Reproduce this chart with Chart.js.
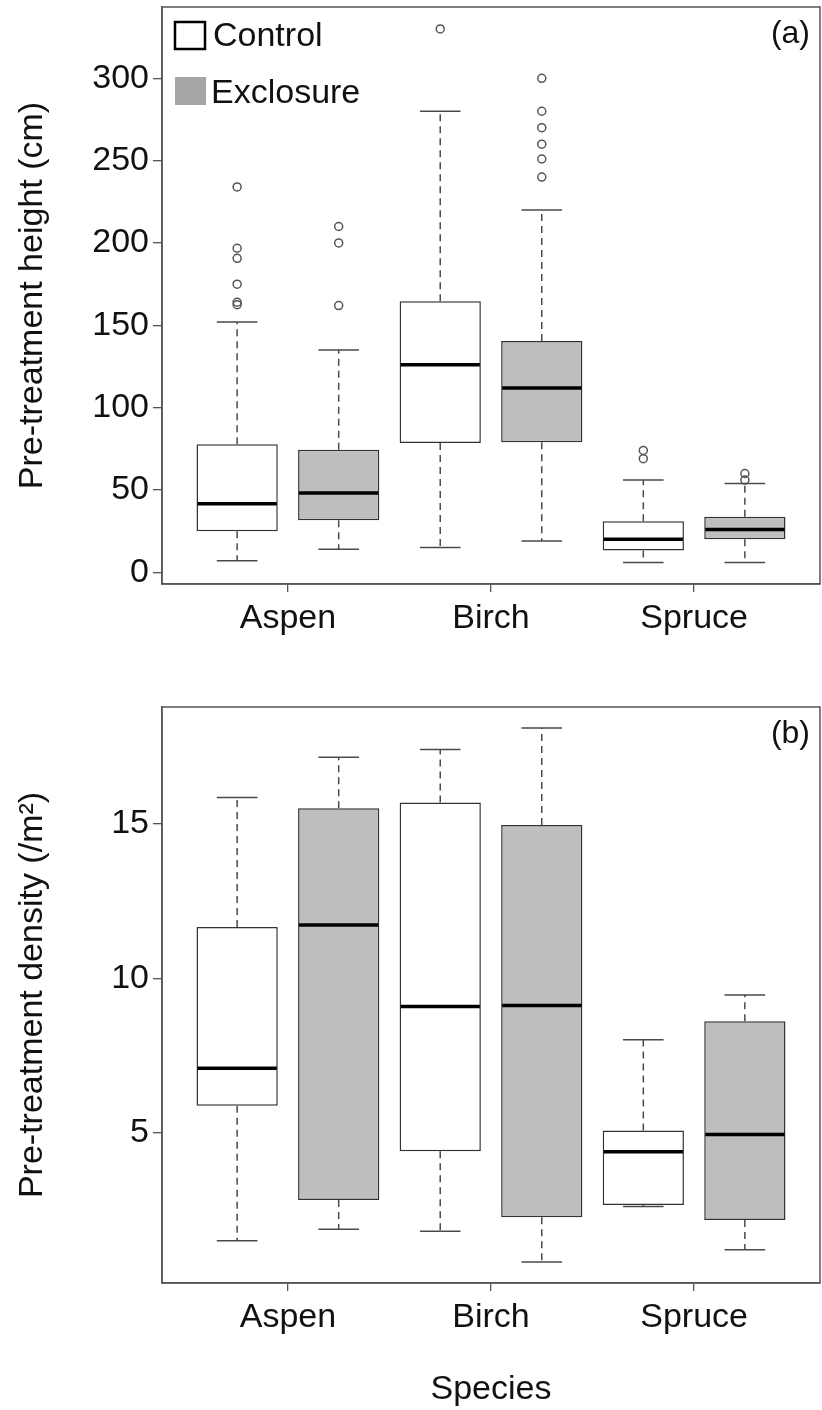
<!DOCTYPE html>
<html>
<head>
<meta charset="utf-8">
<script src="https://cdn.jsdelivr.net/npm/chart.js@4.4.1/dist/chart.umd.min.js"></script>
<style>
  html, body { margin: 0; padding: 0; background: #ffffff; }
  #wrap { position: relative; width: 822px; height: 1410px; }
  .panel { position: absolute; left: 0; width: 822px; }
  #pa { top: 0; height: 660px; }
  #pb { top: 660px; height: 750px; }
  canvas { display: block; }
</style>
</head>
<body>
<div id="wrap">
  <div class="panel" id="pa"><canvas id="chartA" width="822" height="660"></canvas></div>
  <div class="panel" id="pb"><canvas id="chartB" width="822" height="750"></canvas></div>
</div>
<script>
// ---- data -------------------------------------------------------------
const species = ['Aspen', 'Birch', 'Spruce'];
const treatments = ['Control', 'Exclosure'];
// one box per species x treatment, Control then Exclosure
const boxPositions = [1, 2, 3, 4, 5, 6];
const speciesTickPositions = [1.5, 3.5, 5.5];

// (a) pre-treatment height (cm)
const heightLow    = [7,    14,   15,    19,    6,    6];
const heightQ1     = [25,   31.6, 78.5,  79,    13.3, 20];
const heightMedian = [41.7, 48.2, 126,   112,   20,   26];
const heightQ3     = [77.7, 74.5, 164.6, 140.5, 31,   33.8];
const heightHigh   = [152,  135,  280,   220,   56,   54];
const heightOutliers = [
  [234, 196.8, 190.7, 175, 164, 162.5],
  [210, 200, 162],
  [330],
  [300, 280, 270, 260, 251, 240],
  [74, 69],
  [60, 56]
];
const heightTicks = [0, 50, 100, 150, 200, 250, 300];

// (b) pre-treatment density (/m2)
const densityLow    = [1.50,  1.87,  1.81,  0.81,  2.61, 1.21];
const densityQ1     = [5.87,  2.82,  4.40,  2.26,  2.66, 2.17];
const densityMedian = [7.09,  11.73, 9.09,  9.12,  4.38, 4.94];
const densityQ3     = [11.66, 15.51, 15.70, 14.97, 5.07, 8.61];
const densityHigh   = [15.86, 17.16, 17.41, 18.11, 8.01, 9.46];
const densityOutliers = [[], [], [], [], [], []];
const densityTicks = [5, 10, 15];

// ---- styling ----------------------------------------------------------
const FONT = '"Liberation Sans", Arial, Helvetica, sans-serif';
const TEXT = '#111111';
const AXIS = '#555555';
const BOX_EDGE = '#333333';
const BOX_FILL = ['#ffffff', '#bebebe'];
const LEGEND_FILL = ['#ffffff', '#a6a6a6'];

Chart.defaults.font.family = FONT;
Chart.defaults.color = TEXT;

// whiskers, caps and medians, drawn on the chart's own scales
const whiskerPlugin = {
  id: 'whiskers',
  afterDatasetsDraw(chart, args, opts) {
    const { ctx } = chart;
    const xs = chart.scales.x, ys = chart.scales.y;
    const bars = chart.getDatasetMeta(0).data;
    ctx.save();
    opts.positions.forEach((pos, i) => {
      const px = xs.getPixelForValue(pos);
      const w = bars[i].width;
      const yLow = ys.getPixelForValue(opts.low[i]);
      const yQ1 = ys.getPixelForValue(opts.q1[i]);
      const yQ3 = ys.getPixelForValue(opts.q3[i]);
      const yHigh = ys.getPixelForValue(opts.high[i]);
      const yMed = ys.getPixelForValue(opts.median[i]);
      // dashed whiskers
      ctx.strokeStyle = '#4a4a4a';
      ctx.lineWidth = 1.5;
      ctx.setLineDash([7, 5]);
      ctx.beginPath();
      ctx.moveTo(px, yQ3); ctx.lineTo(px, yHigh);
      ctx.moveTo(px, yQ1); ctx.lineTo(px, yLow);
      ctx.stroke();
      // caps
      ctx.setLineDash([]);
      ctx.beginPath();
      ctx.moveTo(px - w / 4, yHigh); ctx.lineTo(px + w / 4, yHigh);
      ctx.moveTo(px - w / 4, yLow); ctx.lineTo(px + w / 4, yLow);
      ctx.stroke();
      // median
      ctx.strokeStyle = '#000000';
      ctx.lineWidth = 3.5;
      ctx.beginPath();
      ctx.moveTo(px - w / 2 + 1, yMed); ctx.lineTo(px + w / 2 - 1, yMed);
      ctx.stroke();
    });
    ctx.restore();
  }
};

// full frame around the plotting region plus the panel letter
const framePlugin = {
  id: 'frame',
  afterDraw(chart, args, opts) {
    const { ctx, chartArea: a } = chart;
    ctx.save();
    ctx.strokeStyle = AXIS;
    ctx.lineWidth = 1.5;
    ctx.strokeRect(a.left, a.top, a.right - a.left, a.bottom - a.top);
    ctx.fillStyle = TEXT;
    ctx.font = '32px ' + FONT;
    ctx.textAlign = 'right';
    ctx.textBaseline = 'alphabetic';
    ctx.fillText(opts.label, a.right - 10, a.top + 36);
    ctx.restore();
  }
};

// treatment key in the top-left corner of panel (a)
const keyPlugin = {
  id: 'treatmentKey',
  afterDraw(chart, args, opts) {
    if (!opts.show) return;
    const { ctx, chartArea: a } = chart;
    ctx.save();
    const x0 = a.left + 13;
    // Control swatch
    ctx.strokeStyle = '#000000';
    ctx.lineWidth = 2.5;
    ctx.fillStyle = LEGEND_FILL[0];
    ctx.fillRect(x0, a.top + 15, 30, 27);
    ctx.strokeRect(x0, a.top + 15, 30, 27);
    // Exclosure swatch
    ctx.fillStyle = LEGEND_FILL[1];
    ctx.fillRect(x0, a.top + 70, 31, 28);
    ctx.fillStyle = TEXT;
    ctx.font = '34px ' + FONT;
    ctx.textBaseline = 'alphabetic';
    ctx.fillText(treatments[0], x0 + 38, a.top + 39);
    ctx.fillText(treatments[1], x0 + 36, a.top + 96);
    ctx.restore();
  }
};

function buildChart(canvasId, p) {
  const outlierPoints = [];
  p.outliers.forEach((list, i) => list.forEach(v => outlierPoints.push({ x: boxPositions[i], y: v })));

  return new Chart(document.getElementById(canvasId), {
    type: 'bar',
    data: {
      datasets: [
        {
          type: 'bar',
          data: boxPositions.map((pos, i) => ({ x: pos, y: [p.q1[i], p.q3[i]] })),
          backgroundColor: boxPositions.map((pos, i) => BOX_FILL[i % 2]),
          borderColor: BOX_EDGE,
          borderWidth: 1.5,
          borderSkipped: false,
          barPercentage: 0.8,
          categoryPercentage: 1.0,
          order: 2
        },
        {
          type: 'scatter',
          data: outlierPoints,
          pointStyle: 'circle',
          pointRadius: 4,
          borderColor: '#555555',
          backgroundColor: 'rgba(0,0,0,0)',
          borderWidth: 1.5,
          order: 1
        }
      ]
    },
    options: {
      responsive: false,
      animation: false,
      events: [],
      layout: { autoPadding: false, padding: { top: p.padTop, right: 2, left: 0, bottom: 0 } },
      plugins: {
        legend: { display: false },
        tooltip: { enabled: false },
        whiskers: {
          positions: boxPositions, low: p.low, q1: p.q1, median: p.median, q3: p.q3, high: p.high
        },
        frame: { label: p.label },
        treatmentKey: { show: p.showKey }
      },
      scales: {
        x: {
          type: 'linear',
          min: 0.26,
          max: 6.74,
          offset: false,
          afterBuildTicks: s => { s.ticks = speciesTickPositions.map(v => ({ value: v })); },
          afterFit: s => {
            s.height = p.xAxisHeight;
            s.paddingLeft = 0; s.paddingRight = 0;
          },
          grid: { offset: false, drawOnChartArea: false, drawTicks: true, tickLength: 8, color: AXIS, lineWidth: 1.3 },
          border: { display: true, color: AXIS, width: 1.5 },
          ticks: {
            autoSkip: false, maxRotation: 0, padding: 6,
            font: { size: 34 }, color: TEXT,
            callback: (v, i) => species[i]
          },
          title: {
            display: !!p.xTitle, text: p.xTitle || '',
            font: { size: 34 }, color: TEXT, padding: { top: 0, bottom: 0 }
          }
        },
        y: {
          type: 'linear',
          min: p.yMin,
          max: p.yMax,
          afterBuildTicks: s => { s.ticks = p.ticks.map(v => ({ value: v })); },
          afterFit: s => {
            s.width = 162;
            s.paddingTop = 0; s.paddingBottom = 0;
          },
          grid: { drawOnChartArea: false, drawTicks: true, tickLength: 9, color: AXIS, lineWidth: 1.3 },
          border: { display: true, color: AXIS, width: 1.5 },
          ticks: { padding: 4, font: { size: 34 }, color: TEXT },
          title: {
            display: true, text: p.yTitle,
            font: { size: 34 }, color: TEXT, padding: { top: 12, bottom: 0 }
          }
        }
      }
    },
    plugins: [whiskerPlugin, framePlugin, keyPlugin]
  });
}

buildChart('chartA', {
  low: heightLow, q1: heightQ1, median: heightMedian, q3: heightQ3, high: heightHigh,
  outliers: heightOutliers, ticks: heightTicks,
  yMin: -7.1, yMax: 343.3,
  yTitle: 'Pre-treatment height (cm)', xTitle: '',
  label: '(a)', showKey: true,
  padTop: 7, xAxisHeight: 76
});

buildChart('chartB', {
  low: densityLow, q1: densityQ1, median: densityMedian, q3: densityQ3, high: densityHigh,
  outliers: densityOutliers, ticks: densityTicks,
  yMin: 0.13, yMax: 18.79,
  yTitle: 'Pre-treatment density (/m²)', xTitle: 'Species',
  label: '(b)', showKey: false,
  padTop: 47, xAxisHeight: 127
});
</script>
</body>
</html>
